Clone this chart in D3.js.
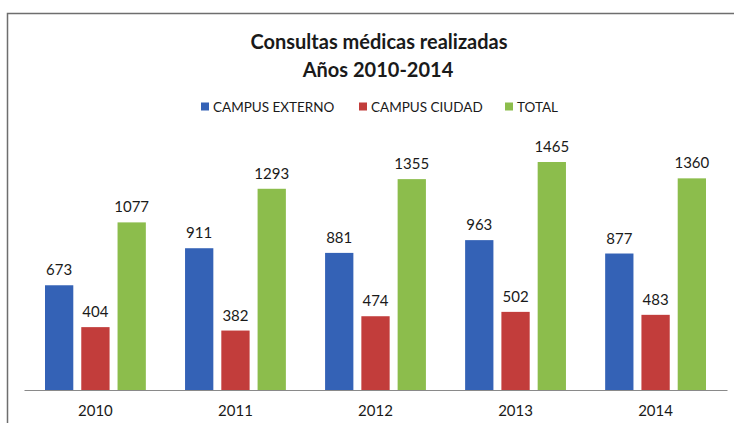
<!DOCTYPE html>
<html>
<head>
<meta charset="utf-8">
<script src="https://cdn.jsdelivr.net/npm/d3@7"></script>
<style>
  body { margin: 0; background: #fff; }
  text { font-family: Lato, "Open Sans", sans-serif; fill: #1a1a1a; }
</style>
</head>
<body>
<div id="chart"></div>
<script>
var years = ["2010", "2011", "2012", "2013", "2014"];
var seriesNames = ["CAMPUS EXTERNO", "CAMPUS CIUDAD", "TOTAL"];
var campusExterno = [673, 911, 881, 963, 877];
var campusCiudad = [404, 382, 474, 502, 483];
var total = [1077, 1293, 1355, 1465, 1360];
var colors = ["#3462b6", "#c23d3b", "#8cbd4c"];

var W = 734, H = 423;
var svg = d3.select("#chart").append("svg")
    .attr("width", W)
    .attr("height", H);

// frame of the scanned chart area
svg.append("path")
    .attr("d", "M7.5,423 L7.5,13.5 L734,13.5")
    .attr("fill", "none")
    .attr("stroke", "#6e6e6e")
    .attr("stroke-width", 1.5);

var margin = {left: 24, right: 7, top: 141, bottom: 33};
var plotW = W - margin.left - margin.right;
var plotH = H - margin.top - margin.bottom;
var g = svg.append("g").attr("transform", "translate(" + margin.left + "," + margin.top + ")");

var x0 = d3.scaleBand().domain(years).range([0, plotW]).paddingInner(0.28).paddingOuter(0.15);
var x1 = d3.scaleBand().domain(seriesNames).range([0, x0.bandwidth()]).paddingInner(0.22);
var y = d3.scaleLinear().domain([0, 1600]).range([plotH, 0]);

var rows = years.map(function(yr, i) {
    return {year: yr, values: [campusExterno[i], campusCiudad[i], total[i]]};
});

var groups = g.selectAll(".grp")
    .data(rows)
    .enter()
    .append("g")
        .attr("class", "grp")
        .attr("transform", function(d) { return "translate(" + x0(d.year) + ",0)"; });

groups.selectAll("rect")
    .data(function(d) { return d.values.map(function(v, i) { return {name: seriesNames[i], v: v, i: i}; }); })
    .enter()
    .append("rect")
        .attr("x", function(d) { return x1(d.name); })
        .attr("y", function(d) { return y(d.v); })
        .attr("width", x1.bandwidth())
        .attr("height", function(d) { return plotH - y(d.v); })
        .style("fill", function(d) { return colors[d.i]; });

groups.selectAll(".val")
    .data(function(d) { return d.values.map(function(v, i) { return {name: seriesNames[i], v: v}; }); })
    .enter()
    .append("text")
        .attr("class", "val")
        .attr("x", function(d) { return x1(d.name) + x1.bandwidth() / 2; })
        .attr("y", function(d) { return y(d.v) - 10; })
        .attr("text-anchor", "middle")
        .style("font-size", "15px")
        .text(function(d) { return d.v; });

// baseline + category labels
var xAxis = g.append("g")
    .attr("transform", "translate(0," + plotH + ")")
    .call(d3.axisBottom(x0).tickSize(0).tickPadding(15));
xAxis.select(".domain").attr("stroke", "#8a8a8a").attr("stroke-width", 1.2);
xAxis.selectAll("text")
    .style("font-size", "15px")
    .style("font-family", "Lato, sans-serif")
    .attr("fill", "#1a1a1a");

// title
svg.append("text")
    .attr("x", 379).attr("y", 49)
    .attr("text-anchor", "middle")
    .style("font-size", "20px").style("font-weight", "bold")
    .text("Consultas médicas realizadas");
svg.append("text")
    .attr("x", 378).attr("y", 77)
    .attr("text-anchor", "middle")
    .style("font-size", "20px").style("font-weight", "bold")
    .text("Años 2010-2014");

// legend
var legendX = [201, 359, 505];
var legend = svg.selectAll(".leg")
    .data(seriesNames)
    .enter()
    .append("g")
        .attr("class", "leg")
        .attr("transform", function(d, i) { return "translate(" + legendX[i] + ",107)"; });
legend.append("rect")
    .attr("x", 0).attr("y", -4.5)
    .attr("width", 8).attr("height", 8)
    .style("fill", function(d, i) { return colors[i]; });
legend.append("text")
    .attr("x", 12).attr("y", 5)
    .style("font-size", "13.5px")
    .text(function(d) { return d; });
</script>
</body>
</html>
